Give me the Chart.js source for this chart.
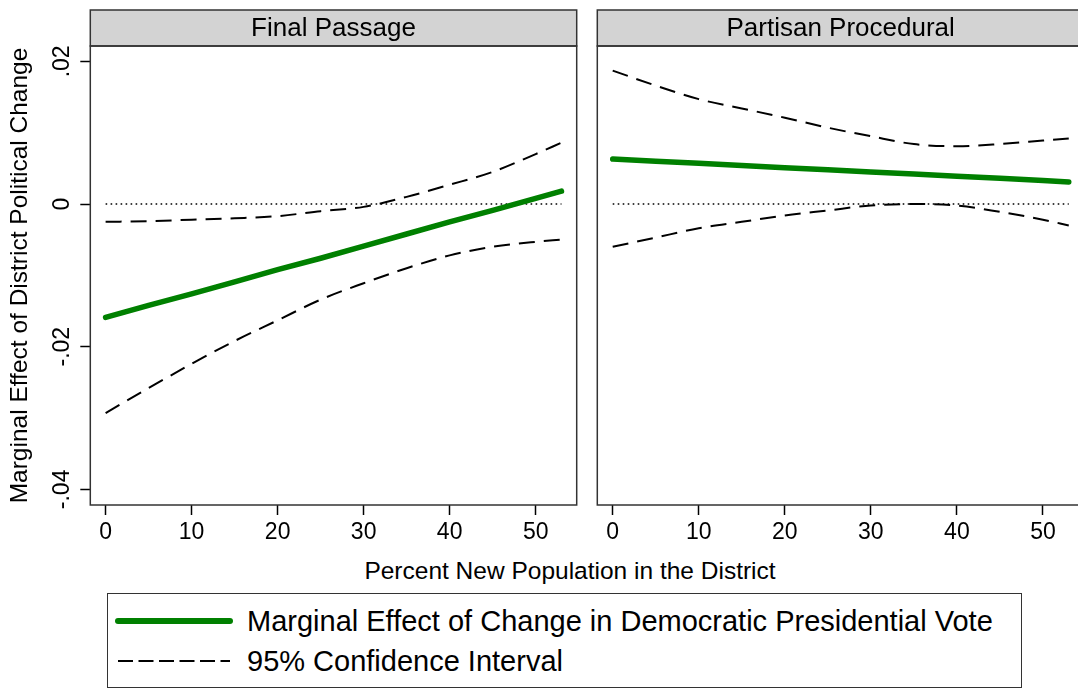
<!DOCTYPE html>
<html>
<head>
<meta charset="utf-8">
<script src="https://cdn.jsdelivr.net/npm/chart.js@4.4.1/dist/chart.umd.min.js"></script>
<style>
  html, body { margin: 0; padding: 0; background: #fff; overflow: hidden; width: 1078px; height: 688px; }
  body { position: relative; font-family: "Liberation Sans", Arial, Helvetica, sans-serif; }
  canvas { position: absolute; top: 0; }
  #cLeft { left: 0; }
  #cRight { left: 590px; }
  .txt { position: absolute; color: #000; white-space: nowrap; }
  #xtitle { left: 270px; width: 600px; top: 559px; font-size: 24.5px; line-height: 24.5px; text-align: center; }
  #legendBox { position: absolute; left: 107px; top: 593px; width: 915px; height: 95px; border: 1.5px solid #333; box-sizing: border-box; }
  .lgText { left: 247px; font-size: 29px; line-height: 29px; }
  .sw { position: absolute; left: 112px; }
</style>
</head>
<body>
<canvas id="cLeft" width="590" height="545"></canvas>
<canvas id="cRight" width="510" height="545"></canvas>
<div id="xtitle" class="txt">Percent New Population in the District</div>
<div id="legendBox"></div>
<svg class="sw" style="top:610px" width="125" height="22"><line x1="6" y1="11" x2="118" y2="11" stroke="#008000" stroke-width="6" stroke-linecap="round"/></svg>
<svg class="sw" style="top:650px" width="125" height="22"><line x1="6" y1="11" x2="118" y2="11" stroke="#000" stroke-width="2" stroke-dasharray="15 5.5"/></svg>
<div class="txt lgText" style="top:607px">Marginal Effect of Change in Democratic Presidential Vote</div>
<div class="txt lgText" style="top:647px">95% Confidence Interval</div>

<script>
// ---------- data ----------
const panelTitles = ['Final Passage', 'Partisan Procedural'];
const xVals = [0, 5, 10, 15, 20, 25, 30, 35, 40, 45, 50, 53];

const finalEffect = [-0.0159, -0.0142, -0.0126, -0.0109, -0.0092, -0.0076, -0.0059, -0.0042, -0.0025, -0.0009, 0.0008, 0.0018];
const finalUpper  = [-0.0025, -0.0024, -0.0022, -0.0020, -0.0017, -0.0010, -0.0004, 0.0010, 0.0027, 0.0045, 0.0070, 0.0086];
const finalLower  = [-0.0293, -0.0258, -0.0224, -0.0192, -0.0163, -0.0134, -0.0111, -0.0090, -0.0072, -0.0060, -0.0053, -0.0050];

const procEffect = [0.0063, 0.0060, 0.0057, 0.0054, 0.0051, 0.0048, 0.0045, 0.0042, 0.0039, 0.0036, 0.0033, 0.0031];
const procUpper  = [0.0187, 0.0166, 0.0147, 0.0134, 0.0121, 0.0107, 0.0095, 0.0084, 0.0081, 0.0084, 0.0089, 0.0092];
const procLower  = [-0.0060, -0.0047, -0.0034, -0.0025, -0.0016, -0.0009, -0.0002, 0.0000, -0.0002, -0.0011, -0.0022, -0.0030];

const refX = [0, 53];
const refY = [0, 0];

const xTickValues = [0, 10, 20, 30, 40, 50];
const yTickValues = [-0.04, -0.02, 0, 0.02];
const yTickLabels = ['-.04', '-.02', '0', '.02'];
const yAxisTitle = 'Marginal Effect of District Political Change';

// ---------- helpers ----------
const FONT = '"Liberation Sans", Arial, Helvetica, sans-serif';
Chart.defaults.font.family = FONT;
Chart.defaults.color = '#000';

const pts = (xs, ys) => xs.map((x, i) => ({ x: x, y: ys[i] }));

function makeDatasets(effect, upper, lower) {
  return [
    { data: pts(xVals, effect), borderColor: '#008000', borderWidth: 5.5, borderCapStyle: 'round', pointRadius: 0, fill: false, tension: 0 },
    { data: pts(xVals, upper), borderColor: '#000', borderWidth: 2, borderDash: [16, 9], pointRadius: 0, fill: false, cubicInterpolationMode: 'monotone' },
    { data: pts(xVals, lower), borderColor: '#000', borderWidth: 2, borderDash: [16, 9], pointRadius: 0, fill: false, cubicInterpolationMode: 'monotone' },
    { data: pts(refX, refY), borderColor: '#000', borderWidth: 1.5, borderDash: [1.6, 3.4], pointRadius: 0, fill: false }
  ];
}

const panelPlugin = {
  id: 'panelFrame',
  beforeDatasetsDraw(chart, args, opts) {
    const a = chart.chartArea, ctx = chart.ctx;
    ctx.save();
    ctx.fillStyle = '#d3d3d3';
    ctx.fillRect(a.left, 10, a.right - a.left, a.top - 10);
    ctx.restore();
  },
  afterDraw(chart, args, opts) {
    const a = chart.chartArea, ctx = chart.ctx;
    ctx.save();
    ctx.strokeStyle = '#333';
    ctx.lineWidth = 1.5;
    ctx.strokeRect(a.left, 10, a.right - a.left, a.top - 10);
    ctx.strokeRect(a.left, a.top, a.right - a.left, a.bottom - a.top);
    ctx.fillStyle = '#000';
    ctx.font = '26px ' + FONT;
    ctx.textAlign = 'center';
    ctx.textBaseline = 'alphabetic';
    ctx.fillText(opts.title, (a.left + a.right) / 2, 35.5);
    ctx.restore();
  }
};

function xScale(min, max) {
  return {
    type: 'linear', min: min, max: max,
    afterBuildTicks: (s) => { s.ticks = xTickValues.map(v => ({ value: v })); },
    afterFit: (s) => { s.height = 40; },
    grid: { display: true, drawOnChartArea: false, drawTicks: true, tickLength: 10, tickWidth: 1.5, tickColor: '#000' },
    border: { display: false },
    ticks: { font: { size: 23 }, color: '#000', padding: 4, maxRotation: 0, autoSkip: false, callback: (v) => String(v) }
  };
}

const yMin = -0.04219, yMax = 0.02215;

function yScale(show) {
  return {
    type: 'linear', min: yMin, max: yMax, display: show,
    afterBuildTicks: (s) => { s.ticks = yTickValues.map(v => ({ value: v })); },
    afterFit: (s) => { s.width = show ? 90.3 : 0; },
    grid: { display: true, drawOnChartArea: false, drawTicks: true, tickLength: 10, tickWidth: 1.5, tickColor: '#000' },
    border: { display: false },
    title: { display: show, text: yAxisTitle, font: { size: 24.5 }, color: '#000', padding: { top: 6, bottom: 0 } },
    ticks: {
      font: { size: 23 }, color: '#000', minRotation: 90, maxRotation: 90, crossAlign: 'center', padding: -2.5, autoSkip: false,
      callback: (v) => { const i = yTickValues.findIndex(t => Math.abs(t - v) < 1e-9); return i >= 0 ? yTickLabels[i] : ''; }
    }
  };
}

function baseOptions(title, padding, showY, xmin, xmax) {
  return {
    responsive: false, animation: false, devicePixelRatio: 1,
    layout: { padding: padding },
    plugins: { legend: { display: false }, tooltip: { enabled: false }, panelFrame: { title: title } },
    scales: { x: xScale(xmin, xmax), y: yScale(showY) }
  };
}

new Chart(document.getElementById('cLeft'), {
  type: 'line',
  data: { datasets: makeDatasets(finalEffect, finalUpper, finalLower) },
  options: baseOptions(panelTitles[0], { left: 0, right: 13.3, top: 46, bottom: 0 }, true, -1.78, 54.77),
  plugins: [panelPlugin]
});

new Chart(document.getElementById('cRight'), {
  type: 'line',
  data: { datasets: makeDatasets(procEffect, procUpper, procLower) },
  options: baseOptions(panelTitles[1], { left: 7.3, right: 16, top: 46, bottom: 0 }, false, -1.79, 54.77),
  plugins: [panelPlugin]
});
</script>
</body>
</html>
